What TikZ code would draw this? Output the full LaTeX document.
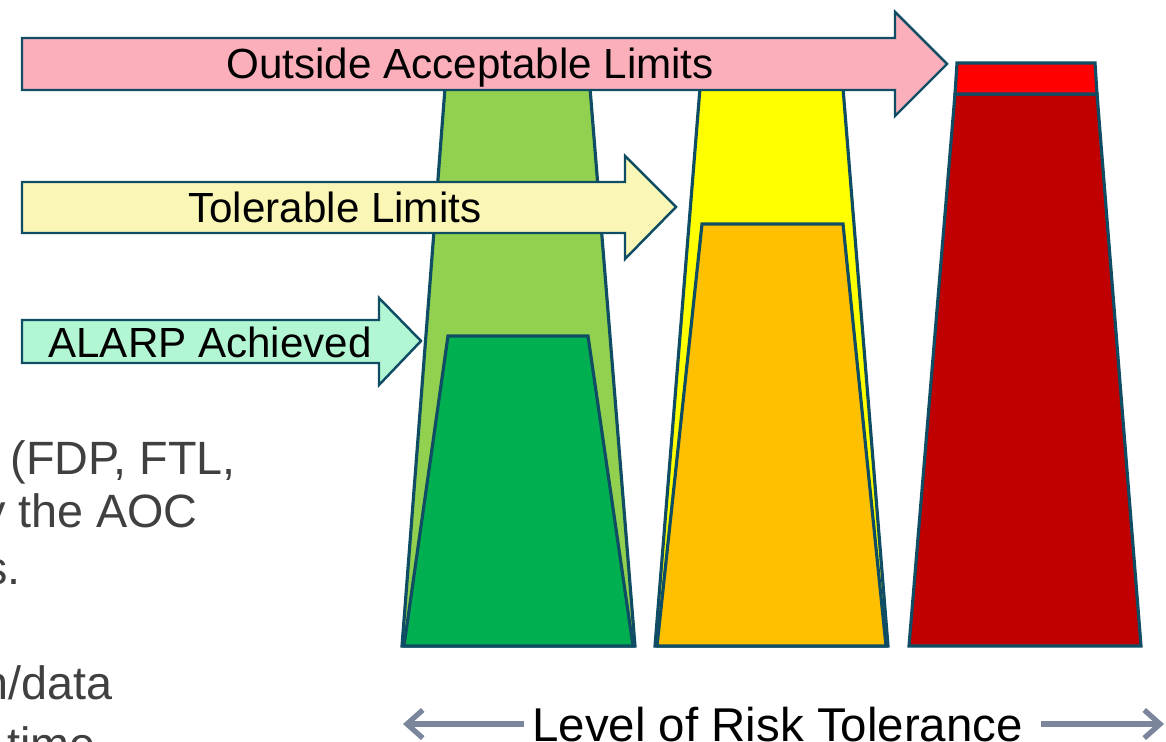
\documentclass[tikz,border=0pt]{standalone}
\usepackage{fontspec}
\setmainfont{Liberation Sans}
\usetikzlibrary{arrows.meta}

\definecolor{edge}{HTML}{0E4D63}
\definecolor{pinkfill}{HTML}{FBAFBB}
\definecolor{creamfill}{HTML}{FAF6B5}
\definecolor{mintfill}{HTML}{B3F6D3}
\definecolor{lgreen}{HTML}{92D050}
\definecolor{dgreen}{HTML}{00B050}
\definecolor{yel}{HTML}{FFFF00}
\definecolor{orng}{HTML}{FFC000}
\definecolor{dred}{HTML}{C00000}
\definecolor{bred}{HTML}{FF0000}
\definecolor{slate}{HTML}{7B869C}
\definecolor{bodygray}{HTML}{404040}

\tikzset{
    trap/.style={draw=edge, line width=1.8pt, line join=miter},
    blockarrow/.style={draw=edge, line width=1.4pt, line join=miter},
    armtext/.style={font=\fontsize{24}{28}\selectfont, inner sep=0pt, anchor=base west},
    bodytext/.style={font=\fontsize{26.6}{31}\selectfont, text=bodygray, inner sep=0pt, anchor=base east},
    risktext/.style={font=\fontsize{27}{32}\selectfont, inner sep=0pt, anchor=base west},
    riskarrow/.style={draw=slate, line width=3pt, -{Straight Barb[length=9pt,width=16pt]}}
}

\begin{document}
\begin{tikzpicture}[x=0.02cm, y=-0.02cm]
    \useasboundingbox (0,0) rectangle (1166,742);
    \clip (0,0) rectangle (1166,742);
    % the three columns
    \draw [trap, fill=lgreen] (445,88) -- (590,88) -- (635,646) -- (402,646) -- cycle;
    \draw [trap, fill=dgreen] (448,336) -- (588,336) -- (633,646) -- (404,646) -- cycle;
    \draw [trap, fill=yel] (700,88) -- (843,88) -- (888,646) -- (655,646) -- cycle;
    \draw [trap, fill=orng] (702,224) -- (843,224) -- (886,646) -- (657,646) -- cycle;
    \draw [trap, fill=dred] (955,94) -- (1097,94) -- (1141,646) -- (909,646) -- cycle;
    \draw [trap, fill=bred] (957,63) -- (1095,63) -- (1097,94) -- (955,94) -- cycle;
    % limit arrows
    \draw [blockarrow, fill=pinkfill] (22,38) -- (895,38) -- (895,12) -- (947,64)
        -- (895,116) -- (895,90) -- (22,90) -- cycle;
    \draw [blockarrow, fill=creamfill] (22,182) -- (625,182) -- (625,156) -- (676,207)
        -- (625,259) -- (625,233) -- (22,233) -- cycle;
    \draw [blockarrow, fill=mintfill] (22,320) -- (379,320) -- (379,298) -- (421,341)
        -- (379,385) -- (379,363) -- (22,363) -- cycle;
    \node [armtext] (outside) at (226,79) {Outside Acceptable Limits};
    \node [armtext] (tolerable) at (188,223) {Tolerable Limits};
    \node [armtext] (alarp) at (48,358) {ALARP Achieved};
    % cut-off body text on the left
    \node [bodytext] (fdp) at (236,475) {(FDP, FTL,};
    \node [bodytext] (aoc) at (198,528) {y the AOC};
    \node [bodytext] (dot) at (21,585) {s.};
    \node [bodytext] (data) at (113,699) {n/data};
    \node [bodytext] (time) at (96,760) {time};
    % risk tolerance axis
    \node [risktext] (risk) at (532,741) {Level of Risk Tolerance};
    \coordinate (riskL) at (403,727);
    \coordinate (riskR) at (1164,727);
    \draw [riskarrow] ([xshift=-4.5pt]risk.west) -- (risk.west -| riskL);
    \draw [riskarrow] ([xshift=10pt]risk.east) -- (risk.east -| riskR);
\end{tikzpicture}
\end{document}
